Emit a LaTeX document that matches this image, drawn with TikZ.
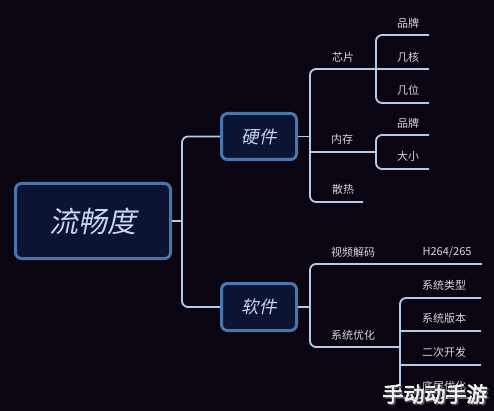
\documentclass[tikz,border=0pt]{standalone}
\usepackage{fontspec}
\setmainfont{Noto Sans CJK SC}
\newfontfamily\cjkit[FakeSlant=0.2]{Noto Sans CJK SC}
\newfontfamily\wmfont[FakeBold=3]{Noto Sans CJK SC}
\definecolor{bgc}{HTML}{0A0510}
\definecolor{linec}{HTML}{B4CCEA}
\definecolor{boxdraw}{HTML}{4A76AE}
\definecolor{boxfill}{HTML}{0B1433}
\definecolor{txtc}{HTML}{D6D6DE}
\definecolor{boxtxt}{HTML}{C4D6F0}
\begin{document}
\begin{tikzpicture}[x=1pt,y=-1pt,
  conn/.style={draw=linec, line width=1.8pt, rounded corners=6pt},
  box/.style={draw=boxdraw, line width=3pt, fill=boxfill, rounded corners=6pt, text=boxtxt, inner sep=0pt},
  lbl/.style={text=txtc, font=\fontsize{11}{11}\selectfont, inner sep=0pt}]
\fill[bgc] (0,0) rectangle (494,411);
\useasboundingbox (0,0) rectangle (494,411);

% boxes
\node[box, minimum width=155pt, minimum height=75pt, font=\cjkit\fontsize{29}{29}\selectfont] (root) at (93,221) {流畅度};
\node[box, minimum width=75pt, minimum height=46pt, font=\cjkit\fontsize{17.5}{17.5}\selectfont] (hw) at (259,136.5) {硬件};
\node[box, minimum width=75pt, minimum height=47pt, font=\cjkit\fontsize{17.5}{17.5}\selectfont] (sw) at (259,307) {软件};

% junctions and line ends
\coordinate (rj) at (182,221);
\coordinate (hj) at (310,136.5);
\coordinate (sj) at (310,307);
\coordinate (chipJ) at (376,69);
\coordinate (chipE) at (429,69);
\coordinate (memJ) at (376,152);
\coordinate (heatE) at (363,202);
\coordinate (cb) at (429,35);
\coordinate (cw) at (429,103);
\coordinate (mb) at (429,135);
\coordinate (ms) at (429,169);
\coordinate (vdE) at (482,264);
\coordinate (soJ) at (400,347);
\coordinate (s1) at (481,298);
\coordinate (s2) at (481,331);
\coordinate (s3) at (481,365);
\coordinate (s4) at (481,398);

% connectors
\draw[conn] (root.east) -- (rj);
\draw[conn] (hw.west) -| (rj) |- (sw.west);
\draw[conn] (hw.east) -- (hj);
\draw[conn] (chipJ) -| (hj) |- (heatE);
\draw[conn] (hj |- memJ) -- (memJ);
\draw[conn] (cb) -| (chipJ) |- (cw);
\draw[conn] (chipJ) -- (chipE);
\draw[conn] (mb) -| (memJ) |- (ms);
\draw[conn] (sw.east) -- (sj);
\draw[conn] (vdE) -| (sj) |- (soJ);
\draw[conn] (s1) -| (soJ) |- (s4);
\draw[conn] (soJ |- s2) -- (s2);
\draw[conn] (soJ |- s3) -- (s3);

% labels
\node[lbl] (tchip) at (343,57) {芯片};
\node[lbl] (tmem) at (342,139) {内存};
\node[lbl] (theat) at (343,189) {散热};
\node[lbl] (tcb) at (408,23) {品牌};
\node[lbl] (tcc) at (408,57) {几核};
\node[lbl] (tcw) at (408,90) {几位};
\node[lbl] (tmb) at (408,123) {品牌};
\node[lbl] (tms) at (408,156) {大小};
\node[lbl] (tvd) at (353,252) {视频解码};
\node[lbl] (th) at (447,252) {H264/265};
\node[lbl] (tso) at (353,335) {系统优化};
\node[lbl] (ts1) at (444,285) {系统类型};
\node[lbl] (ts2) at (444,318) {系统版本};
\node[lbl] (ts3) at (444,352) {二次开发};
\node[lbl] (ts4) at (444,386) {底层优化};

% watermark
\node[text=black!70, font=\wmfont\fontsize{21}{21}\selectfont, inner sep=0pt] (wms) at (436.5,395.5) {手动动手游};
\node[text=white!88!gray, font=\wmfont\fontsize{21}{21}\selectfont, inner sep=0pt] (wm) at (435,394) {手动动手游};
\end{tikzpicture}
\end{document}
